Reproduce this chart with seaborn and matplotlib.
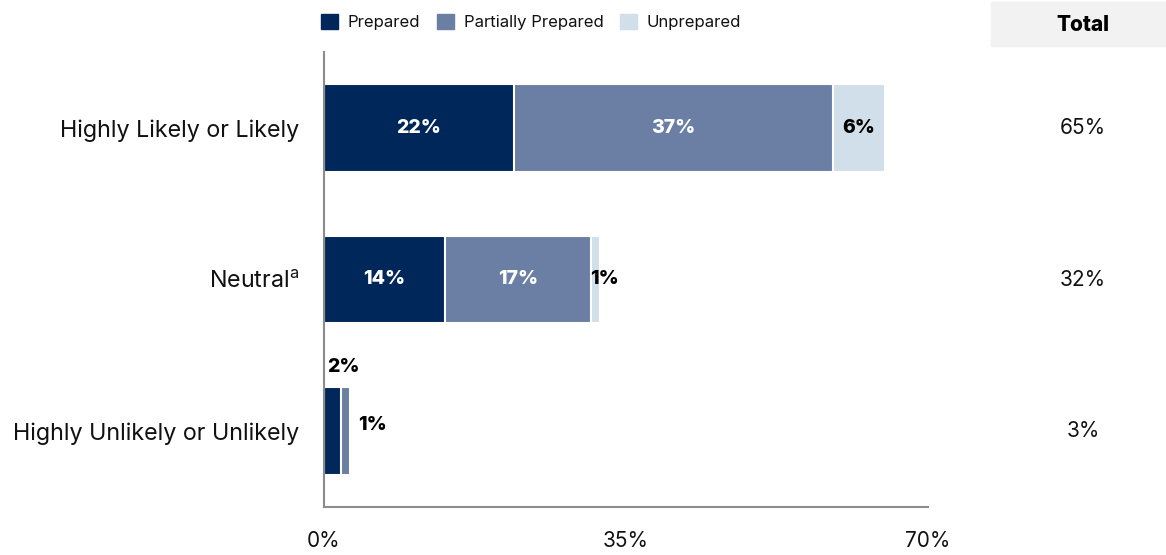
import matplotlib
matplotlib.use("Agg")
import matplotlib.pyplot as plt
import matplotlib.patches as mpatches
import seaborn as sns
import pandas as pd

categories = ["Highly Likely or Likely", "Neutral$^{\\mathregular{a}}$", "Highly Unlikely or Unlikely"]
prepared = [22, 14, 2]
partially = [37, 17, 1]
unprepared = [6, 1, 0]
totals = ["65%", "32%", "3%"]
series_names = ["Prepared", "Partially Prepared", "Unprepared"]
colors = ["#00275A", "#6A7FA3", "#D0DFEA"]
x_ticks = [0, 35, 70]

df = pd.DataFrame({"category": categories, "Prepared": prepared,
                   "Partially Prepared": partially, "Unprepared": unprepared})
df["cum_partial"] = df["Prepared"] + df["Partially Prepared"]
df["cum_total"] = df["cum_partial"] + df["Unprepared"]

sns.set_theme(style="white")
plt.rcParams["font.family"] = ["Inter", "DejaVu Sans"]
plt.rcParams["text.color"] = "#111111"
plt.rcParams["xtick.color"] = "#111111"
plt.rcParams["ytick.color"] = "#111111"

fig = plt.figure(figsize=(11.66, 5.55), dpi=100)
ax = fig.add_axes([324 / 1166, 1 - 507 / 555, 604 / 1166, 455 / 555])

# stacked bars drawn as overlapping cumulative bars
for col, c in zip(["cum_total", "cum_partial", "Prepared"], colors[::-1]):
    sns.barplot(data=df, y="category", x=col, orient="h", color=c, width=0.58,
                edgecolor="white", linewidth=1.5, saturation=1, ax=ax)

ax.set_xlim(0, 70)
ax.set_ylim(2.5, -0.5)
ax.set_xticks(x_ticks)
ax.set_xticklabels([f"{t}%" for t in x_ticks], fontsize=15)
ax.tick_params(axis="x", pad=17, length=0)
ax.tick_params(axis="y", pad=18, length=0, labelsize=16.8)
ax.set_xlabel("")
ax.set_ylabel("")
for s in ["top", "right"]:
    ax.spines[s].set_visible(False)
for s in ["left", "bottom"]:
    ax.spines[s].set_color("#8c8c8c")
    ax.spines[s].set_linewidth(1.5)

lab = dict(fontsize=14, fontweight="heavy", va="center")
for i in range(len(categories)):
    p, q, u = prepared[i], partially[i], unprepared[i]
    if p >= 5:
        ax.text(p / 2, i, f"{p}%", color="white", ha="center", **lab)
        ax.text(p + q / 2, i, f"{q}%", color="white", ha="center", **lab)
        if u >= 5:
            ax.text(p + q + u / 2, i, f"{u}%", color="black", ha="center", **lab)
        else:
            ax.text(p + q - 0.2, i, f"{u}%", color="black", ha="left", **lab)
    else:
        ax.text(0.4, i - 0.42, f"{p}%", color="black", ha="left", **lab)
        ax.text(p + q + 1.0, i - 0.04, f"{q}%", color="black", ha="left", **lab)

# Total column
fig.patches.append(mpatches.Rectangle((991 / 1166, 1 - 46 / 555), 175 / 1166, 44 / 555,
                                      transform=fig.transFigure, color="#F2F2F2", zorder=0))
fig.text(1083 / 1166, 1 - 25 / 555, "Total", ha="center", va="center",
         fontsize=15, fontweight="heavy", color="black")
for i, t in enumerate(totals):
    y = ax.transData.transform((0, i))[1]
    fig.text(1083 / 1166, y / fig.dpi / 5.55, t, ha="center", va="center", fontsize=15)

handles = [mpatches.Patch(color=c, label=n) for n, c in zip(series_names, colors)]
fig.legend(handles=handles, loc="center left", bbox_to_anchor=(306 / 1166, 1 - 22 / 555),
           ncol=3, frameon=False, fontsize=12, handlelength=1.0, handleheight=1.0,
           columnspacing=1.0, handletextpad=0.6)

fig.savefig("out.png", dpi=100)
